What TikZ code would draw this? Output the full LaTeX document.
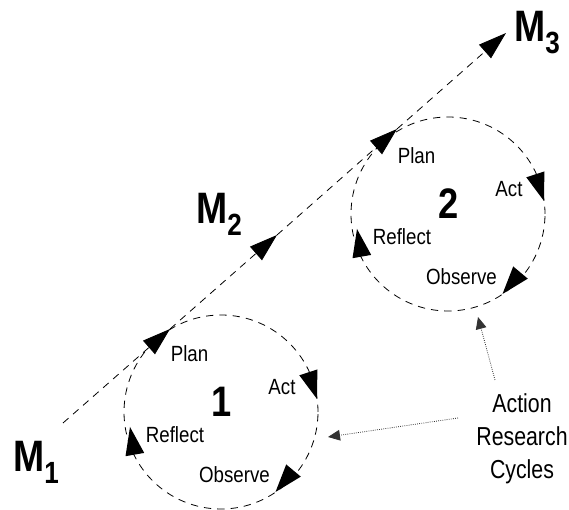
\documentclass[tikz,border=0pt]{standalone}
\usepackage{fontspec}
\setmainfont{Liberation Sans}
\newfontfamily\condfont[FakeStretch=0.85]{Liberation Sans}
\newfontfamily\arcfont[FakeStretch=0.82]{Liberation Sans}
\usetikzlibrary{arrows.meta}
\tikzset{
  dashln/.style={dash pattern=on 5.5pt off 4.5pt, line width=0.6pt},
  bigtip/.style={-{Triangle[length=21pt,width=13.5pt]}},
  cyc/.style={circle, draw, dashln, minimum size=145.5pt, inner sep=0pt},
  lbl/.style={font=\condfont\fontsize{16.5}{19}\selectfont, inner sep=0pt, anchor=base},
  numlbl/.style={font=\condfont\fontsize{32}{36}\selectfont\bfseries, inner sep=0pt, anchor=base},
  mlbl/.style={font=\condfont\fontsize{33}{38}\selectfont\bfseries, inner sep=0pt, anchor=base west},
  arclbl/.style={font=\arcfont\fontsize{19.5}{23}\selectfont, inner sep=0pt, anchor=base},
  pointer/.style={densely dotted, line width=0.6pt, black!80, -{Triangle[length=9pt,width=8pt]}},
  headtip/.pic={\fill (0,0) -- (-28,9.5) -- (-28,-9.5) -- cycle;}
}
\newcommand{\msub}[1]{\raisebox{-8.5pt}{\fontsize{23}{26}\selectfont #1}}
\begin{document}
\begin{tikzpicture}[x=0.75pt,y=0.75pt]
\useasboundingbox (0,0) rectangle (569,510);

% milestone labels
\node[mlbl] (M1) at (13,38) {M\msub{1}};
\node[mlbl] (M2) at (196,286) {M\msub{2}};
\node[mlbl] (M3) at (514,468) {M\msub{3}};

% cycles
\foreach \cx/\cy/\n in {221/98/1,448/296/2}{
  \begin{scope}[shift={(\cx,\cy)}]
    \node[cyc] (cyc\n) at (0,0) {};
    \pic[rotate=-72] at (96,13) {headtip};
    \pic[rotate=-130] at (54.5,-80) {headtip};
    \pic[rotate=100] at (-91,-15) {headtip};
    \node[lbl] (plan\n) at (-31.5,50) {Plan};
    \node[lbl] (act\n) at (61,17) {Act};
    \node[lbl] (reflect\n) at (-46,-31) {Reflect};
    \node[lbl] (observe\n) at (13.5,-71) {Observe};
    \node[numlbl] (num\n) at (1,-5) {\n};
  \end{scope}
}

% main progression line
\coordinate (s0) at (63,87);
\coordinate (t1) at (170,181);
\coordinate (t2) at (277,275);
\coordinate (t3) at (397,381);
\coordinate (t4) at (506,477);
\draw[dashln,bigtip] (s0) -- (t1);
\draw[dashln,bigtip] (t1) -- (t2);
\draw[dashln,bigtip] (t2) -- (t3);
\draw[dashln,bigtip] (t3) -- (t4);

% annotation
\node[arclbl] (arc1) at (522,97) {Action};
\node[arclbl] (arc2) at (522,64) {Research};
\node[arclbl] (arc3) at (522,31) {Cycles};
\coordinate (p1s) at (495,130);
\coordinate (p1e) at (478,193);
\coordinate (p2s) at (458,92);
\coordinate (p2e) at (328,73);
\draw[pointer] (p1s) -- (p1e);
\draw[pointer] (p2s) -- (p2e);
\end{tikzpicture}
\end{document}
